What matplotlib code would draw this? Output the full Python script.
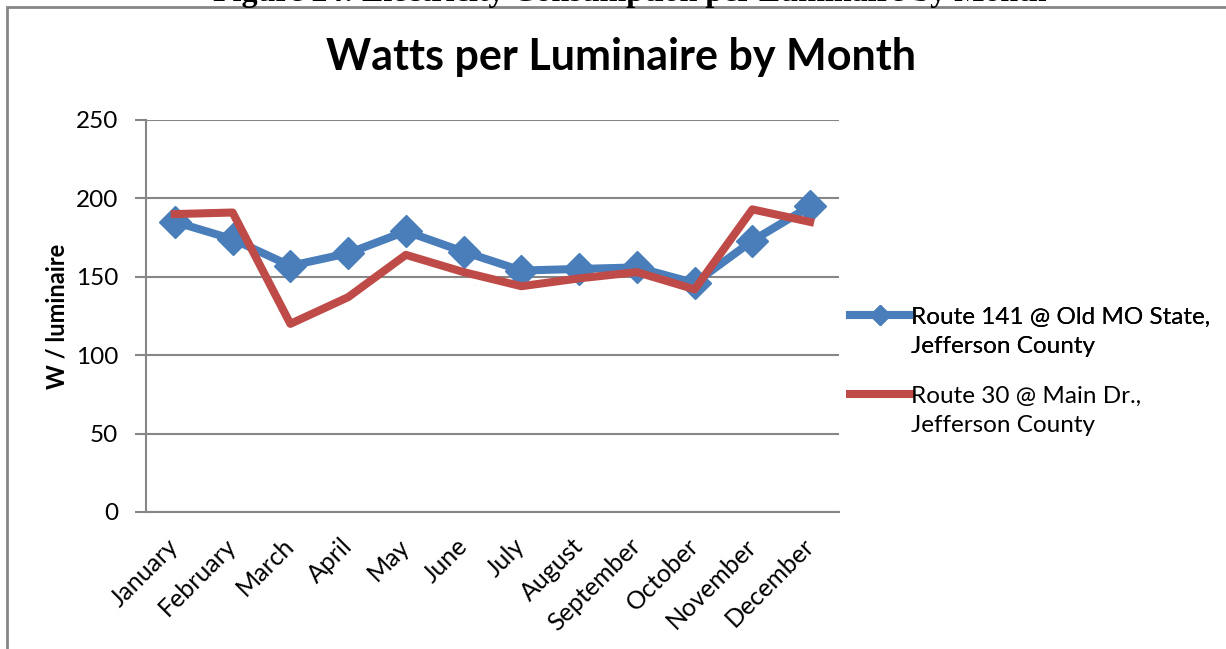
import matplotlib.pyplot as plt
import matplotlib.transforms as mtransforms
from matplotlib.lines import Line2D
from matplotlib.patches import Rectangle

# Monthly watts per luminaire
months = ['January', 'February', 'March', 'April', 'May', 'June',
          'July', 'August', 'September', 'October', 'November', 'December']
route141 = [185, 174, 157, 165, 179, 166, 154, 155, 156, 146, 173, 195]
route30 = [190, 191, 120, 137, 164, 153, 144, 149, 153, 142, 193, 185]
label141 = ['Route 141 @ Old MO State,', 'Jefferson County']
label30 = ['Route 30 @ Main Dr.,', 'Jefferson County']
yticks = [0, 50, 100, 150, 200, 250]

plt.rcParams['font.family'] = ['Lato', 'DejaVu Sans']
grey = '#868686'
blue = '#4A7EBB'
red = '#BE4B48'

fig = plt.figure(figsize=(12.26, 6.49), dpi=100)
ax = fig.add_axes([146 / 1226, 1 - 512 / 649, 693 / 1226, 392 / 649])

x = list(range(len(months)))
ax.plot(x, route141, color=blue, lw=5.8, marker='D', ms=16, zorder=3)
ax.plot(x, route30, color=red, lw=5.8, zorder=4)

ax.set_xlim(-0.5, len(months) - 0.5)
ax.set_ylim(0, 250)
ax.set_yticks(yticks)
ax.set_xticks(x)
ax.tick_params(axis='x', length=0, pad=6)
ax.tick_params(axis='y', length=8, width=1.5, color=grey, labelsize=17.5, pad=12)
ax.set_xticklabels(months, rotation=45, ha='right', va='center',
                   rotation_mode='anchor', fontsize=18)
# nudge month labels down to sit like the original
offset = mtransforms.ScaledTranslation(0, -22 / 100, fig.dpi_scale_trans)
for lbl in ax.get_xticklabels():
    lbl.set_transform(lbl.get_transform() + offset)
ax.grid(axis='y', color=grey, lw=1.5)
ax.set_axisbelow(True)
for side in ['top', 'right']:
    ax.spines[side].set_visible(False)
for side in ['left', 'bottom']:
    ax.spines[side].set_color(grey)
    ax.spines[side].set_linewidth(1.5)

ax.set_ylabel('W / luminaire', fontsize=17, fontweight='bold', labelpad=5)

fig.text(621 / 1226, 1 - 70 / 649, 'Watts per Luminaire by Month',
         ha='center', va='baseline', fontsize=31, fontweight='bold')
fig.text(630 / 1226, 1 - 1 / 649,
         'Figure 24: Electricity Consumption per Luminaire by Month',
         ha='center', va='baseline', fontsize=23, fontweight='bold',
         family='Liberation Serif')

# legend: marker sits beside the first line of each two-line entry
blank = Line2D([], [], color='none')
h1 = Line2D([], [], color=blue, lw=5.8, marker='D', ms=10)
h2 = Line2D([], [], color=red, lw=5.8)
common = dict(loc='center left', frameon=False, fontsize=17.5, borderpad=0,
              borderaxespad=0, handlelength=2.45, handletextpad=0.05,
              labelspacing=0.36)
leg1 = fig.legend([h1, blank], label141,
                  bbox_to_anchor=(850 / 1226, 1 - 332 / 649), **common)
fig.add_artist(leg1)
fig.legend([h2, blank], label30,
           bbox_to_anchor=(850 / 1226, 1 - 411 / 649), **common)

fig.patches.append(Rectangle((7 / 1226, -0.1), 1.2, 1.1 - 7 / 649,
                             transform=fig.transFigure, fill=False,
                             edgecolor=grey, lw=2))

fig.savefig('out.png', dpi=100)
